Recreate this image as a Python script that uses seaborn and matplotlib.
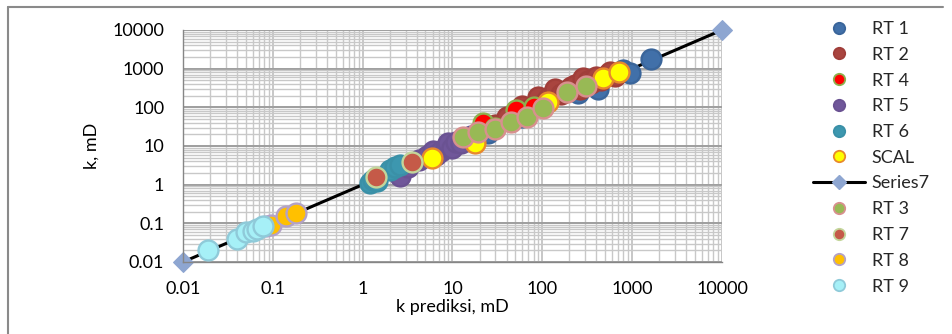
import numpy as np
import pandas as pd
import matplotlib
matplotlib.use("Agg")
import matplotlib.pyplot as plt
from matplotlib.lines import Line2D
from matplotlib.ticker import FixedLocator, FixedFormatter, LogLocator, NullFormatter
import seaborn as sns

# ---- data ----
rt1_x = [25, 60, 250, 420, 800, 950, 1600]
rt1_y = [22, 55, 230, 290, 900, 780, 1800]

rt2_x = [30, 40, 50, 60, 75, 90, 110, 120, 140, 160, 180, 210, 230, 260, 280, 320, 350, 400, 450, 520, 560, 650]
rt2_y = [35, 55, 60, 110, 95, 180, 150, 190, 300, 220, 250, 330, 370, 300, 560, 480, 420, 600, 500, 700, 820, 650]

rt4_x = [10, 15, 21.7, 30, 51, 80]
rt4_y = [11, 16, 38.4, 30, 85, 100]

rt5_x = [2.6, 3.2, 4.2, 5.2, 6.0, 6.5, 7.5, 8.5, 9.0, 10, 11, 12.5, 14, 16]
rt5_y = [1.7, 2.8, 4.3, 5.5, 7.5, 6, 7.5, 9.5, 12, 9, 13, 12, 16, 18]

rt6_x = [1.2, 1.3, 1.45, 2.0, 2.3, 2.6]
rt6_y = [1.1, 1.35, 1.25, 2.4, 2.9, 3.2]

scal_x = [5.9, 18, 115, 470, 720]
scal_y = [4.9, 12, 139, 560, 800]

series7_x = [0.01, 10000]
series7_y = [0.01, 10000]

rt3_x = [13, 19, 30, 45, 67, 103, 186, 306]
rt3_y = [17.3, 22.4, 27, 42, 57, 94, 252, 360]

rt7_x = [1.4, 3.5]
rt7_y = [1.6, 3.9]

rt8_x = [0.085, 0.095, 0.14, 0.18]
rt8_y = [0.085, 0.09, 0.155, 0.18]

rt9_x = [0.019, 0.04, 0.05, 0.06, 0.066, 0.078]
rt9_y = [0.02, 0.04, 0.06, 0.065, 0.073, 0.085]

tick_vals = [0.01, 0.1, 1, 10, 100, 1000, 10000]
tick_labels = ["0.01", "0.1", "1", "10", "100", "1000", "10000"]

# ---- style ----
sns.set_style("white")
plt.rcParams["font.family"] = ["Lato", "DejaVu Sans"]
FS = 13

fig = plt.figure(figsize=(9.52, 3.34), dpi=100)
ax = fig.add_axes([183 / 952, 1 - 262 / 334, 539 / 952, 232 / 334])

series = [
    ("RT 1", rt1_x, rt1_y, "#4170A9", "#3A659A"),
    ("RT 2", rt2_x, rt2_y, "#A9443F", "#A03E3A"),
    ("RT 4", rt4_x, rt4_y, "#FF0000", "#8DB04E"),
    ("RT 5", rt5_x, rt5_y, "#70579A", "#6A5292"),
    ("RT 6", rt6_x, rt6_y, "#3D97AF", "#3A90A7"),
    ("SCAL", scal_x, scal_y, "#FFFF00", "#E8892C"),
    ("Series7", None, None, None, None),
    ("RT 3", rt3_x, rt3_y, "#98B955", "#D8908E"),
    ("RT 7", rt7_x, rt7_y, "#C55A48", "#C3D69B"),
    ("RT 8", rt8_x, rt8_y, "#FFC000", "#B3A2C7"),
    ("RT 9", rt9_x, rt9_y, "#A6F0F7", "#8FCAD9"),
]

handles = []
z = 3
for name, xs, ys, fc, ec in series:
    if name == "Series7":
        df7 = pd.DataFrame({"x": series7_x, "y": series7_y})
        sns.lineplot(data=df7, x="x", y="y", ax=ax, color="black", lw=2.2,
                     marker="D", markersize=10, markerfacecolor="#8EA6D1",
                     markeredgecolor="#8EA6D1", zorder=2.5, legend=False,
                     clip_on=False)
        handles.append(Line2D([], [], color="black", lw=2.2, marker="D",
                              markersize=7, markerfacecolor="#8EA6D1",
                              markeredgecolor="#8EA6D1", label=name))
        continue
    df = pd.DataFrame({"x": xs, "y": ys})
    sns.scatterplot(data=df, x="x", y="y", ax=ax, s=205, color=fc,
                    edgecolor=ec, linewidth=1.7, zorder=z, legend=False)
    z += 0.1
    handles.append(Line2D([], [], linestyle="", marker="o", markersize=8.2,
                          markerfacecolor=fc, markeredgecolor=ec,
                          markeredgewidth=1.3, label=name))

ax.set_xscale("log")
ax.set_yscale("log")
ax.set_xlim(0.01, 10000)
ax.set_ylim(0.01, 10000)

for axis in (ax.xaxis, ax.yaxis):
    axis.set_major_locator(FixedLocator(tick_vals))
    axis.set_major_formatter(FixedFormatter(tick_labels))
    axis.set_minor_locator(LogLocator(base=10, subs=np.arange(2, 10)))
    axis.set_minor_formatter(NullFormatter())

ax.grid(True, which="minor", axis="both", color="#C8C8C8", lw=1.0, zorder=0)
ax.grid(True, which="major", axis="x", color="#BDBDBD", lw=1.2, zorder=0)
ax.grid(True, which="major", axis="y", color="#9E9E9E", lw=1.4, zorder=0)
ax.set_axisbelow(True)

for s in ("top", "right"):
    ax.spines[s].set_visible(False)
for s in ("left", "bottom"):
    ax.spines[s].set_color("#868686")
    ax.spines[s].set_linewidth(1.0)

ax.tick_params(which="major", direction="out", length=4.5, width=1,
               color="#868686", labelsize=FS, labelcolor="black")
ax.tick_params(axis="y", which="major", pad=9)
ax.tick_params(axis="x", which="major", pad=9)
ax.tick_params(which="minor", length=0)

ax.set_xlabel("k prediksi, mD", fontsize=FS, color="black")
ax.set_ylabel("k, mD", fontsize=FS, color="black")
ax.xaxis.set_label_coords(0.5, -0.16)
ax.yaxis.set_label_coords(-0.155, 0.5)

leg = ax.legend(handles=handles, loc="upper left",
                bbox_to_anchor=(813 / 952, 1 - 21 / 334),
                bbox_transform=fig.transFigure, frameon=False,
                fontsize=FS, handlelength=2.9, handletextpad=0.35,
                labelspacing=0.54, borderaxespad=0, borderpad=0)

# outer chart border (left & top visible in the crop)
fig.add_artist(Line2D([8 / 952, 8 / 952], [0, 1 - 7 / 334],
                      transform=fig.transFigure, color="#8A8A8A", lw=1.5))
fig.add_artist(Line2D([8 / 952, 943 / 952], [1 - 7 / 334, 1 - 7 / 334],
                      transform=fig.transFigure, color="#8A8A8A", lw=1.5))

fig.savefig("out.png", dpi=100)
